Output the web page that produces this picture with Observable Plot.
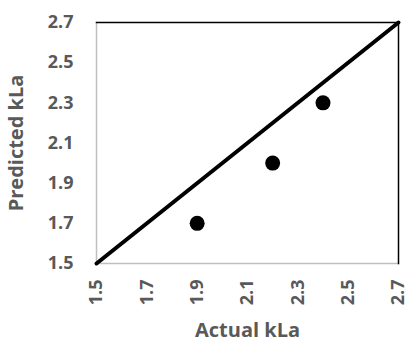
<!DOCTYPE html>
<html><head><meta charset="utf-8">
<script src="https://cdn.jsdelivr.net/npm/d3@7"></script>
<script src="https://cdn.jsdelivr.net/npm/@observablehq/plot@0.6"></script>
<style>
html,body{margin:0;padding:0;background:#fff;}
svg text{font-family:"Open Sans",Lato,sans-serif;font-weight:700;}
</style>
</head><body>
<div id="chart"></div>
<script>
const actual = [1.9, 2.2, 2.4];
const predicted = [1.7, 2.0, 2.3];
const lineX = [1.5, 2.7];
const lineY = [1.5, 2.7];
const ticks = [1.5, 1.7, 1.9, 2.1, 2.3, 2.5, 2.7];
const xTitle = "Actual kLa";
const yTitle = "Predicted kLa";

const points = actual.map((a, i) => ({x: a, y: predicted[i]}));
const diag = lineX.map((a, i) => ({x: a, y: lineY[i]}));
const fmt = d3.format(".1f");

const chart = Plot.plot({
  width: 408, height: 343,
  marginLeft: 96, marginRight: 10, marginTop: 22, marginBottom: 80,
  style: {background: "#fff", overflow: "visible"},
  x: {domain: [1.5, 2.7]},
  y: {domain: [1.5, 2.7]},
  marks: [
    Plot.frame({anchor: "left", stroke: "#bfbfbf", strokeWidth: 1.5}),
    Plot.frame({anchor: "bottom", stroke: "#bfbfbf", strokeWidth: 1.5}),
    Plot.frame({anchor: "top", stroke: "#000", strokeWidth: 1.5}),
    Plot.frame({anchor: "right", stroke: "#000", strokeWidth: 1.5}),
    Plot.axisY({ticks, tickFormat: fmt, tickSize: 0, tickPadding: 23, fontSize: 18, fill: "#595959",
      label: yTitle, labelAnchor: "center", labelArrow: "none", labelOffset: 88}),
    Plot.axisX({ticks, tickFormat: fmt, tickSize: 0, tickPadding: 16, tickRotate: -90, fontSize: 18, fill: "#595959",
      label: xTitle, labelAnchor: "center", labelArrow: "none", labelOffset: 73}),
    Plot.line(diag, {x: "x", y: "y", stroke: "#000", strokeWidth: 4}),
    Plot.dot(points, {x: "x", y: "y", r: 7.5, fill: "#000", stroke: "none"})
  ]
});
document.getElementById("chart").append(chart);
chart.querySelectorAll("text").forEach(t => {
  t.setAttribute("font-weight", "700");
  t.setAttribute("fill", "#595959");
});
chart.querySelectorAll("[aria-label='x-axis label'] text, [aria-label='y-axis label'] text").forEach(t => {
  t.style.fontSize = "20px";
});
</script>
</body></html>
